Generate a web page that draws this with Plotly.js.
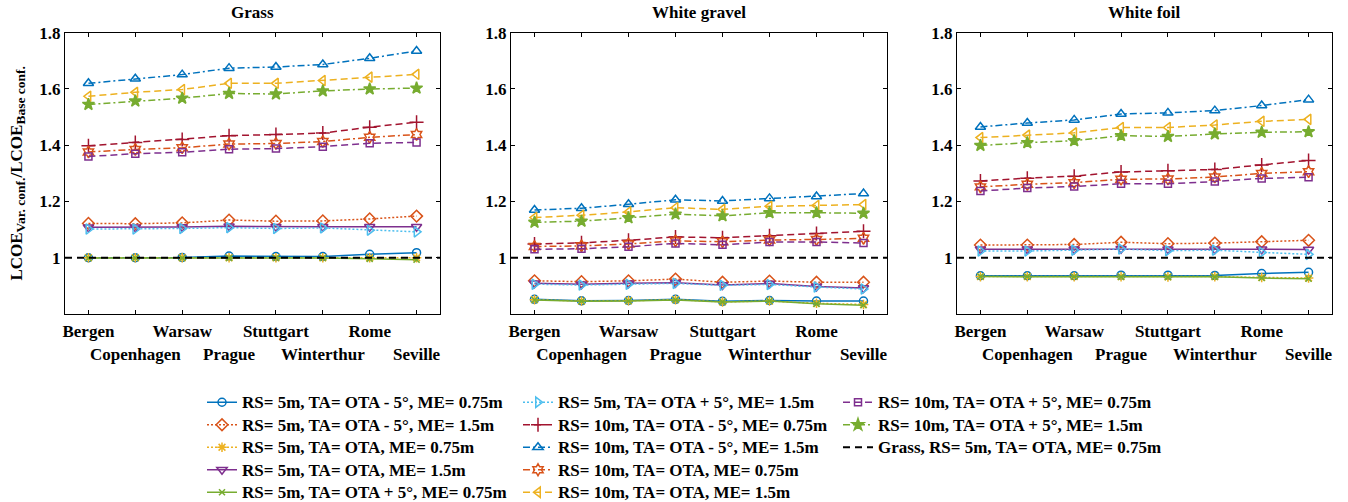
<!DOCTYPE html>
<html><head><meta charset="utf-8">
<script src="https://cdn.plot.ly/plotly-3.0.1.min.js"></script>
<style>html,body{margin:0;padding:0;background:#fff}#chart{width:1348px;height:502px}</style>
</head><body><div id="chart"></div>
<script>
const cities = ["Bergen","Copenhagen","Warsaw","Prague","Stuttgart","Winterthur","Rome","Seville"];
const panelTitles = ["Grass","White gravel","White foil"];
const yTickValues = [1, 1.2, 1.4, 1.6, 1.8];
const yTickLabels = ["1","1.2","1.4","1.6","1.8"];
const seriesNames = [
  "RS= 5m, TA= OTA - 5°, ME= 0.75m",
  "RS= 5m, TA= OTA - 5°, ME= 1.5m",
  "RS= 5m, TA= OTA, ME= 0.75m",
  "RS= 5m, TA= OTA, ME= 1.5m",
  "RS= 5m, TA= OTA + 5°, ME= 0.75m",
  "RS= 5m, TA= OTA + 5°, ME= 1.5m",
  "RS= 10m, TA= OTA - 5°, ME= 0.75m",
  "RS= 10m, TA= OTA - 5°, ME= 1.5m",
  "RS= 10m, TA= OTA, ME= 0.75m",
  "RS= 10m, TA= OTA, ME= 1.5m",
  "RS= 10m, TA= OTA + 5°, ME= 0.75m",
  "RS= 10m, TA= OTA + 5°, ME= 1.5m"
];
const baselineValue = 1;
const baselineName = "Grass, RS= 5m, TA= OTA, ME= 0.75m";

// rows follow seriesNames order
const grass = [
  [1.000, 1.000, 1.001, 1.006, 1.004, 1.004, 1.012, 1.018],
  [1.122, 1.121, 1.124, 1.134, 1.130, 1.131, 1.138, 1.148],
  [1.000, 1.000, 1.000, 1.000, 1.000, 1.000, 1.000, 1.000],
  [1.108, 1.108, 1.109, 1.112, 1.110, 1.110, 1.110, 1.110],
  [0.999, 0.999, 0.999, 0.999, 0.999, 0.999, 0.996, 0.993],
  [1.102, 1.102, 1.104, 1.107, 1.104, 1.106, 1.098, 1.092],
  [1.398, 1.410, 1.420, 1.434, 1.438, 1.443, 1.464, 1.482],
  [1.620, 1.636, 1.651, 1.674, 1.678, 1.687, 1.709, 1.735],
  [1.376, 1.385, 1.391, 1.404, 1.406, 1.413, 1.428, 1.438],
  [1.574, 1.588, 1.598, 1.620, 1.620, 1.630, 1.642, 1.652],
  [1.360, 1.370, 1.375, 1.386, 1.388, 1.395, 1.407, 1.410],
  [1.545, 1.557, 1.567, 1.584, 1.582, 1.593, 1.600, 1.603]
];
const whiteGravel = [
  [0.852, 0.847, 0.848, 0.852, 0.845, 0.848, 0.846, 0.846],
  [0.918, 0.915, 0.918, 0.924, 0.913, 0.917, 0.913, 0.913],
  [0.851, 0.846, 0.847, 0.851, 0.843, 0.846, 0.838, 0.834],
  [0.909, 0.906, 0.909, 0.911, 0.903, 0.908, 0.898, 0.892],
  [0.850, 0.845, 0.846, 0.850, 0.843, 0.846, 0.836, 0.831],
  [0.906, 0.903, 0.906, 0.909, 0.902, 0.905, 0.896, 0.889],
  [1.049, 1.053, 1.062, 1.074, 1.071, 1.078, 1.086, 1.094],
  [1.170, 1.176, 1.190, 1.206, 1.202, 1.211, 1.218, 1.228],
  [1.040, 1.042, 1.049, 1.060, 1.057, 1.063, 1.065, 1.069],
  [1.143, 1.151, 1.163, 1.178, 1.172, 1.183, 1.186, 1.189],
  [1.030, 1.032, 1.039, 1.051, 1.046, 1.056, 1.056, 1.052],
  [1.126, 1.130, 1.142, 1.155, 1.149, 1.160, 1.160, 1.158]
];
const whiteFoil = [
  [0.936, 0.936, 0.936, 0.938, 0.938, 0.937, 0.944, 0.948],
  [1.045, 1.045, 1.047, 1.055, 1.050, 1.052, 1.057, 1.062],
  [0.933, 0.933, 0.933, 0.933, 0.932, 0.933, 0.930, 0.928],
  [1.030, 1.030, 1.030, 1.032, 1.030, 1.030, 1.030, 1.029],
  [0.933, 0.933, 0.933, 0.932, 0.931, 0.932, 0.928, 0.925],
  [1.024, 1.024, 1.027, 1.031, 1.025, 1.027, 1.019, 1.012],
  [1.273, 1.283, 1.290, 1.305, 1.309, 1.314, 1.330, 1.346],
  [1.465, 1.479, 1.490, 1.511, 1.515, 1.523, 1.541, 1.562],
  [1.252, 1.261, 1.267, 1.279, 1.280, 1.287, 1.300, 1.306],
  [1.427, 1.436, 1.444, 1.463, 1.463, 1.472, 1.485, 1.492],
  [1.237, 1.248, 1.253, 1.263, 1.263, 1.271, 1.282, 1.286],
  [1.399, 1.409, 1.416, 1.434, 1.431, 1.440, 1.446, 1.448]
];

// ---- styles ----
const colors = ["#0072BD","#D95319","#EDB120","#7E2F8E","#77AC30","#4DBEEE","#A2142F","#0072BD","#D95319","#EDB120","#7E2F8E","#77AC30"];
const DOT = "2px,2px", DASH = "7px,4px", DASHDOT = "7px,3px,2px,3px";
const dashes = ["solid",DOT,DOT,"solid","solid",DOT,DASH,DASHDOT,DASHDOT,DASH,DASH,DASHDOT];
const symbols = ["circle-open","diamond-open","asterisk-open","triangle-down-open","x-thin-open","triangle-right-open","cross-thin-open","triangle-up-open","hexagram-open","triangle-left-open","square-open","star"];
const sizes = [8,9,8,9,6,9,10,9,9,9,7,9];
const legendIds = ["legend","legend","legend","legend","legend","legend2","legend2","legend2","legend2","legend2","legend3","legend3"];

const panels = [grass, whiteGravel, whiteFoil];
const xIdx = cities.map((c, i) => i + 1);
const xRange = [0.5, cities.length + 0.5];
const tickText = cities.map((c, i) => (i % 2 ? "\u00a0<br>" + c : c));

const W = 1348, H = 502;
const xDomainsPx = [[65, 440], [511, 887], [957, 1332]];
const yDomainPx = [32.7, 314];
const yDom = [(H - yDomainPx[1]) / H, (H - yDomainPx[0]) / H];

const traces = [];
panels.forEach((panel, p) => {
  const xa = p === 0 ? "x" : "x" + (p + 1);
  const ya = p === 0 ? "y" : "y" + (p + 1);
  panel.forEach((vals, i) => {
    traces.push({
      type: "scatter", mode: "lines+markers",
      x: xIdx, y: vals, xaxis: xa, yaxis: ya,
      name: '<span style="font-size:17px">' + seriesNames[i] + '</span>',
      legend: legendIds[i],
      showlegend: p === 0,
      line: {color: colors[i], width: 1.5, dash: dashes[i]},
      marker: {symbol: symbols[i], size: sizes[i], color: colors[i],
               line: {color: colors[i], width: 1.5}},
      hoverinfo: "skip"
    });
  });
  traces.push({
    type: "scatter", mode: "lines",
    x: xRange, y: [baselineValue, baselineValue], xaxis: xa, yaxis: ya,
    name: '<span style="font-size:17px">' + baselineName + '</span>',
    legend: "legend3", showlegend: p === 0,
    line: {color: "#000", width: 2, dash: "7px,5px"},
    hoverinfo: "skip"
  });
});

const axBase = {
  ticks: "inside", ticklen: 4, tickwidth: 1, tickcolor: "#000",
  showline: true, linecolor: "#000", linewidth: 1, mirror: "ticks",
  showgrid: false, zeroline: false, fixedrange: true, tickangle: 0,
  tickfont: {size: 17, color: "#000"}
};

const layout = {
  width: W, height: H,
  margin: {l: 0, r: 0, t: 0, b: 0, autoexpand: false},
  paper_bgcolor: "#fff", plot_bgcolor: "#fff",
  font: {family: "Liberation Serif, Times New Roman, serif", weight: "bold", size: 17, color: "#000"},
  annotations: [],
  legend:  {x: 202 / W, y: (H - 386) / H, xanchor: "left", yanchor: "top", bgcolor: "rgba(0,0,0,0)", font: {size: 15}, tracegroupgap: 0},
  legend2: {x: 518 / W, y: (H - 386) / H, xanchor: "left", yanchor: "top", bgcolor: "rgba(0,0,0,0)", font: {size: 15}, tracegroupgap: 0},
  legend3: {x: 838 / W, y: (H - 386) / H, xanchor: "left", yanchor: "top", bgcolor: "rgba(0,0,0,0)", font: {size: 15}, tracegroupgap: 0}
};

xDomainsPx.forEach((d, p) => {
  const xk = p === 0 ? "xaxis" : "xaxis" + (p + 1);
  const yk = p === 0 ? "yaxis" : "yaxis" + (p + 1);
  const xa = p === 0 ? "x" : "x" + (p + 1);
  const ya = p === 0 ? "y" : "y" + (p + 1);
  layout[xk] = Object.assign({}, axBase, {
    domain: [d[0] / W, d[1] / W], anchor: ya, range: xRange,
    tickmode: "array", tickvals: xIdx, ticktext: tickText, ticklabelstandoff: 2
  });
  layout[yk] = Object.assign({}, axBase, {
    domain: yDom, anchor: xa, range: [0.8, 1.8],
    tickmode: "array", tickvals: yTickValues, ticktext: yTickLabels
  });
  layout.annotations.push({
    text: panelTitles[p], xref: xa + " domain", x: 0.5, yref: "paper", y: (H - 13) / H,
    xanchor: "center", yanchor: "middle", showarrow: false, font: {size: 17}
  });
});
layout.yaxis.title = {
  text: 'LCOE<sub><span style="font-size:13.5px">Var. conf.</span></sub>/LCOE<sub><span style="font-size:13.5px">Base conf.</span></sub>',
  font: {size: 17}, standoff: 12
};

Plotly.newPlot("chart", traces, layout, {displayModeBar: false, staticPlot: true});
</script>
</body></html>
